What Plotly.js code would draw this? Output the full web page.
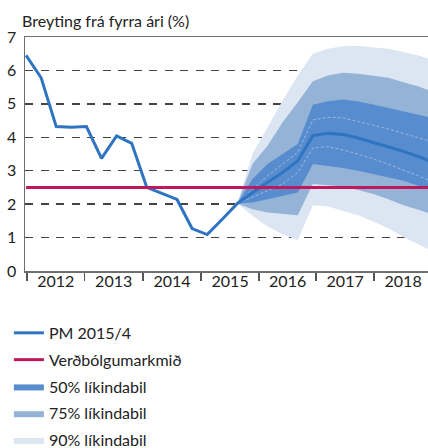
<!DOCTYPE html>
<html>
<head>
<meta charset="utf-8">
<script src="https://cdn.plot.ly/plotly-3.0.1.min.js"></script>
<style>
html,body{margin:0;padding:0;background:#fff;}
#chart{width:428px;height:448px;}
</style>
</head>
<body>
<div id="chart"></div>
<script>
// ---- data (quarterly, 2012Q1 ...) ----
const years = ['2012','2013','2014','2015','2016','2017','2018'];
const pmLabel = 'PM 2015/4';
const targetLabel = 'Verðbólgumarkmið';
const bandLabels = ['50% líkindabil','75% líkindabil','90% líkindabil'];

// inflation, history + central forecast (PM 2015/4)
const pm = [6.45,5.78,4.32,4.30,4.32,3.37,4.04,3.82,2.50,2.32,2.14,1.27,1.09,1.55,2.02,
            2.35,2.65,2.95,3.30,4.05,4.12,4.08,3.98,3.85,3.72,3.58,3.42,3.25];
const target = [2.5,2.5,2.5,2.5,2.5,2.5,2.5,2.5,2.5,2.5,2.5,2.5,2.5,2.5,
                2.5,2.5,2.5,2.5,2.5,2.5,2.5,2.5,2.5,2.5,2.5,2.5,2.5,2.5];

// fan chart bands, starting at quarter index 14
const fanStart = 14;
const upper90 = [2.02,3.50,4.30,5.10,5.85,6.50,6.65,6.72,6.73,6.70,6.65,6.55,6.45,6.30];
const lower90 = [2.02,1.65,1.33,1.10,0.93,1.97,1.93,1.80,1.67,1.48,1.28,1.02,0.80,0.58];
const upper75 = [2.02,3.20,3.75,4.45,5.05,5.68,5.85,5.93,5.90,5.85,5.78,5.65,5.52,5.35];
const lower75 = [2.02,1.85,1.75,1.70,1.67,2.60,2.57,2.53,2.42,2.30,2.15,1.97,1.83,1.68];
const upper50 = [2.02,2.75,3.20,3.50,3.80,4.97,5.08,5.13,5.07,4.98,4.88,4.77,4.67,4.57];
const lower50 = [2.02,2.05,2.15,2.25,2.35,3.20,3.15,3.08,3.00,2.90,2.80,2.70,2.55,2.38];
const innerUpper = [2.02,2.45,2.85,3.20,3.55,4.52,4.60,4.58,4.48,4.36,4.25,4.12,3.98,3.85];
const innerLower = [2.02,2.20,2.40,2.60,2.95,3.68,3.72,3.62,3.50,3.35,3.20,3.02,2.85,2.65];

// ---- layout helpers ----
const qx = pm.map((_, i) => i);
const fx = upper90.map((_, i) => fanStart + i);
const yearBounds = [0.066, 3.86, 7.75, 11.6, 15.44, 19.22, 23.06, 26.9];
const yearMids = years.map((_, i) => (yearBounds[i] + yearBounds[i+1]) / 2);

const C90 = '#dce6f2', C75 = '#95b3d7', C50 = '#578cce';
const FONT = 'Lato, "Open Sans", sans-serif';

function band(lo, hi, color, name, rank, grp) {
  return [
    {x: fx, y: lo, type:'scatter', mode:'lines', line:{width:0, color:color},
     showlegend:false, hoverinfo:'skip', legendgroup:grp},
    {x: fx, y: hi, type:'scatter', mode:'lines', line:{width:0, color:color},
     fill:'tonexty', fillcolor:color, name:name, legendrank:rank, legendgroup:grp, hoverinfo:'skip'}
  ];
}

const traces = [].concat(
  band(lower90, upper90, C90, bandLabels[2], 5, 'b90'),
  band(lower75, upper75, C75, bandLabels[1], 4, 'b75'),
  band(lower50, upper50, C50, bandLabels[0], 3, 'b50'),
  [
    {x: fx, y: innerUpper, type:'scatter', mode:'lines', showlegend:false, hoverinfo:'skip',
     line:{width:0.8, color:'#a9c3e6', dash:'3px,2px'}},
    {x: fx, y: innerLower, type:'scatter', mode:'lines', showlegend:false, hoverinfo:'skip',
     line:{width:0.8, color:'#a9c3e6', dash:'3px,2px'}},
    {x: qx, y: pm, type:'scatter', mode:'lines', name: pmLabel, legendrank:1, legendgroup:'pm',
     line:{width:3, color:'#2f74c0'}},
    {x: qx, y: target, type:'scatter', mode:'lines', name: targetLabel, legendrank:2, legendgroup:'tg',
     line:{width:3, color:'#c0175d'}}
  ]
);

const layout = {
  width: 428, height: 448,
  margin: {l:25, r:0, t:37, b:177, autoexpand:false},
  paper_bgcolor:'#fff', plot_bgcolor:'#fff',
  font: {family: FONT, size: 16, color:'#222'},
  title: {text:'Breyting frá fyrra ári (%)', x: 22/428, xref:'container', xanchor:'left',
          y: 1 - 21/448, yref:'container', yanchor:'middle', automargin:false,
          font:{family: FONT, size:16, color:'#222'}},
  xaxis: {
    range:[-0.07, 26.63], showgrid:false, zeroline:false, automargin:false,
    showline:true, linecolor:'#6e6e6e', linewidth:1.5, mirror:true,
    tickmode:'array', tickvals: yearMids, ticktext: years, ticks:'',
    ticklabelstandoff: -5,
    tickfont:{family: FONT, size:16, color:'#222'},
    minor: {tickmode:'array', tickvals: yearBounds, ticks:'outside', ticklen:8,
            tickwidth:1.5, tickcolor:'#555', showgrid:false}
  },
  yaxis: {
    range:[0,7], tickmode:'array', tickvals:[0,1,2,3,4,5,6,7], automargin:false,
    showgrid:true, gridcolor:'#444', gridwidth:1.3, griddash:'8px,7.5px',
    zeroline:false, showline:true, linecolor:'#6e6e6e', linewidth:1.5,
    ticks:'', ticklabelstandoff: 4,
    tickfont:{family: FONT, size:16, color:'#222'}
  },
  legend: {x:-0.04, xanchor:'left', y:-0.192, yanchor:'top', orientation:'v',
           font:{family: FONT, size:16, color:'#222'}, tracegroupgap:3,
           bgcolor:'rgba(0,0,0,0)'},
  showlegend: true
};

Plotly.newPlot('chart', traces, layout, {staticPlot:true, displayModeBar:false});
</script>
</body>
</html>
